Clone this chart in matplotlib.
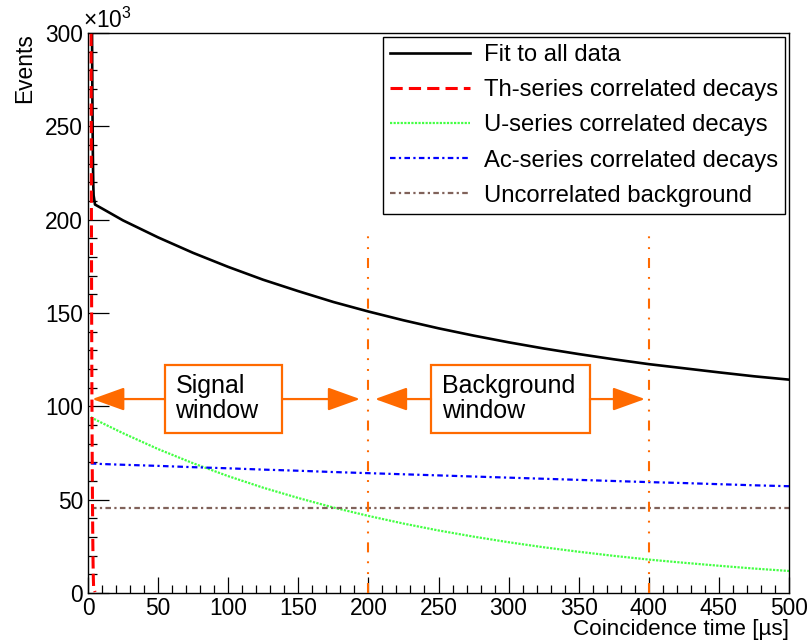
import matplotlib.pyplot as plt
from matplotlib.ticker import MultipleLocator
from matplotlib.lines import Line2D
from matplotlib.patches import Rectangle

plt.rcParams['font.family'] = ['Liberation Sans', 'DejaVu Sans']
plt.rcParams['mathtext.fontset'] = 'custom'
plt.rcParams['mathtext.rm'] = 'Liberation Sans'

# coincidence time grid [us] and fitted components [x1000 events]
t = [2, 5, 10, 25, 50, 75, 100, 125, 150, 175, 200, 225, 250,
     275, 300, 325, 350, 375, 400, 425, 450, 475, 500]
u_series = [94.2, 93.0, 91.1, 85.6, 77.1, 69.5, 62.6, 56.4, 50.9, 45.8, 41.3, 37.2, 33.5,
            30.2, 27.2, 24.5, 22.1, 19.9, 17.9, 16.2, 14.6, 13.1, 11.8]
ac_series = [69.4, 69.3, 69.1, 68.7, 68.1, 67.4, 66.8, 66.1, 65.5, 64.8, 64.2, 63.6, 63.0,
             62.4, 61.8, 61.2, 60.6, 60.0, 59.4, 58.9, 58.3, 57.7, 57.2]
bkg_t = [2, 500]
bkg = [45.8, 45.8]

# fast Th-series component (Po-212) near t=0
th_t = [2.0, 2.2, 2.4, 2.6, 2.8, 3.0, 3.2, 3.4, 3.6, 3.8, 4.0, 5.0]
th_series = [380, 300, 215, 150, 105, 72, 48, 30, 17, 8, 3, 0.5]

# total fit
fit_t = [2.0, 2.2, 2.4, 2.6, 2.8, 3.0, 3.2, 3.4, 3.6, 3.8, 4.0, 5, 10, 25, 50, 75, 100,
         125, 150, 175, 200, 225, 250, 275, 300, 325, 350, 375, 400, 425, 450, 475, 500]
fit_all = [590, 510, 425, 360, 315, 282, 258, 240, 227, 218, 213, 208.1, 206.0, 199.6,
           190.5, 182.2, 174.7, 167.8, 161.7, 155.9, 150.8, 146.1, 141.8, 137.9, 134.3,
           131.0, 128.0, 125.2, 122.6, 120.4, 118.2, 116.1, 114.3]

# window boundaries
win_edges = [200, 400]
win_top = 192

orange = '#ff6a00'
green = '#44ff44'
brown = '#80625a'

fig = plt.figure(figsize=(8.11, 6.41), dpi=100)
ax = fig.add_axes([88/811, 48/641, 701/811, 560/641])

l_u, = ax.plot(t, u_series, color=green, lw=1.6, ls=(0, (1, 0.6)), zorder=2)
l_ac, = ax.plot(t, ac_series, color='blue', lw=1.6, ls=(0, (2.5, 1.5, 1, 1.5)), zorder=2)
l_bkg, = ax.plot(bkg_t, bkg, color=brown, lw=1.6, ls=(0, (2.5, 1.5, 1, 1.5)), zorder=2)
l_fit, = ax.plot(fit_t, fit_all, color='black', lw=1.9, zorder=3)
l_th, = ax.plot(th_t, th_series, color='red', lw=2.2, ls=(0, (4, 1.7)), zorder=4)

for xe in win_edges:
    ax.plot([xe, xe], [0, win_top], color=orange, lw=1.5,
            ls=(0, (4.8, 4.3, 0.9, 4.3, 0.9, 4.3)), zorder=5)

# signal / background window boxes with arrows
arrow_y = 103.9
boxes = [(54.9, 138.4, 3.0, 194.0, 'Signal\nwindow'),
         (244.7, 358.0, 204.7, 397.3, 'Background\nwindow')]
for x0, x1, tip_l, tip_r, label in boxes:
    ax.add_patch(Rectangle((x0, 85.7), x1 - x0, 36.4, fill=True, facecolor='white',
                           edgecolor=orange, lw=1.6, zorder=6))
    ax.text(x0 + 7.5, 104.2, label, fontsize=18, ha='left', va='center',
            linespacing=1.05, zorder=7)
    for start, tip in [(x0, tip_l), (x1, tip_r)]:
        ax.annotate('', xy=(tip, arrow_y), xytext=(start, arrow_y),
                    arrowprops=dict(arrowstyle='-|>,head_length=1.0,head_width=0.36',
                                    mutation_scale=20, color=orange, lw=1.6,
                                    shrinkA=0, shrinkB=0), zorder=6)

ax.set_xlim(0, 500)
ax.set_ylim(0, 300)
ax.xaxis.set_major_locator(MultipleLocator(50))
ax.xaxis.set_minor_locator(MultipleLocator(10))
ax.yaxis.set_major_locator(MultipleLocator(50))
ax.yaxis.set_minor_locator(MultipleLocator(10))
ax.tick_params(which='both', direction='in', top=False, right=False, labelsize=16.4,
               width=0.9)
ax.tick_params(axis='x', which='major', length=11.5, pad=3)
ax.tick_params(axis='x', which='minor', length=5.8)
ax.tick_params(axis='y', which='major', length=15, pad=3.5)
ax.tick_params(axis='y', which='minor', length=6.5)
for sp in ax.spines.values():
    sp.set_linewidth(1.0)

ax.set_xlabel('Coincidence time [µs]', fontsize=16.2, loc='right')
ax.xaxis.set_label_coords(1.0, -0.046)
ax.set_ylabel('Events', fontsize=16.4, loc='top')
ax.yaxis.set_label_coords(-0.074, 1.0)
fig.text(83/811, 1 - 28/641, r'×10$^{3}$', fontsize=16.4, va='baseline', ha='left')

handles = [l_fit,
           Line2D([], [], color='red', lw=2.2, ls=(0, (4, 2))),
           Line2D([], [], color=green, lw=1.6, ls=(0, (1, 0.6))),
           Line2D([], [], color='blue', lw=1.6, ls=(0, (2.5, 1.5, 1, 1.5))),
           Line2D([], [], color=brown, lw=1.6, ls=(0, (2.5, 1.5, 1, 1.5)))]
labels = ['Fit to all data', 'Th-series correlated decays', 'U-series correlated decays',
          'Ac-series correlated decays', 'Uncorrelated background']
leg = fig.legend(handles, labels, loc='upper left', bbox_to_anchor=(383/811, 1 - 37/641),
                 fontsize=17.2, frameon=True, fancybox=False, edgecolor='black',
                 framealpha=1, handlelength=3.35, handletextpad=0.58, borderpad=0.3,
                 borderaxespad=0, labelspacing=0.55)
leg.get_frame().set_linewidth(1.0)
leg.set_zorder(10)

fig.savefig('out.png', dpi=100)
